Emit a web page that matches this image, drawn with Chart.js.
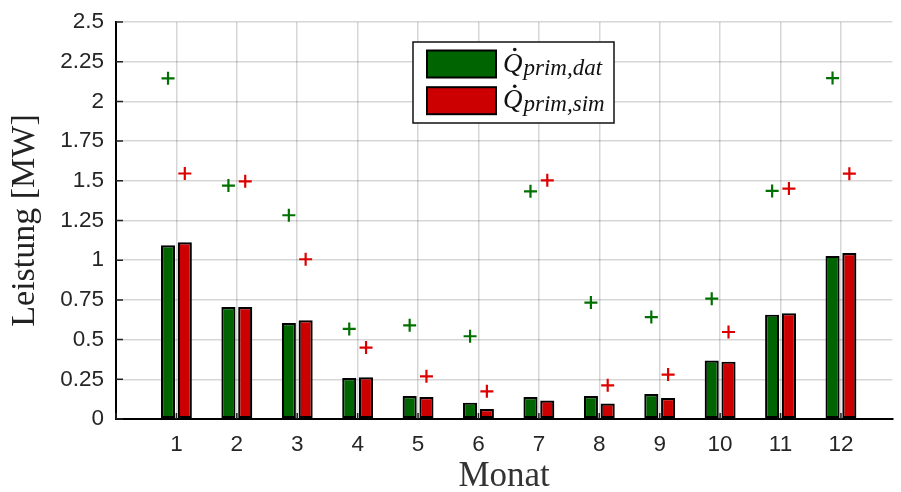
<!DOCTYPE html>
<html>
<head>
<meta charset="utf-8">
<title>Leistung pro Monat</title>
<script src="https://cdn.jsdelivr.net/npm/chart.js@4.4.1/dist/chart.umd.min.js"></script>
<style>
    html, body { margin: 0; padding: 0; background: #fff; }
    #wrap { width: 901px; height: 492px; position: relative; }
</style>
</head>
<body>
<div id="wrap"><canvas id="chart"></canvas></div>
<script>
// Monthly values in MW
const months = [1, 2, 3, 4, 5, 6, 7, 8, 9, 10, 11, 12];
const barsDat = [1.094, 0.705, 0.605, 0.258, 0.145, 0.103, 0.139, 0.145, 0.157, 0.368, 0.657, 1.027];
const barsSim = [1.113, 0.705, 0.622, 0.263, 0.139, 0.063, 0.116, 0.097, 0.132, 0.361, 0.666, 1.045];
const peakDat = [2.145, 1.470, 1.283, 0.567, 0.590, 0.521, 1.434, 0.733, 0.642, 0.758, 1.436, 2.147];
const peakSim = [1.546, 1.497, 1.006, 0.450, 0.269, 0.174, 1.503, 0.212, 0.280, 0.548, 1.451, 1.545];

const legendItems = [
    { sub: 'prim,dat', color: '#006400' },
    { sub: 'prim,sim', color: '#cc0000' }
];

const COLORS = {
    dat: '#006400',
    sim: '#cc0000',
    datMark: '#007000',
    simMark: '#dd0000',
    grid: 'rgba(0, 0, 0, 0.16)',
    text: '#262626'
};

// half distance between the two bars of a month, in x units
const GROUP_SHIFT = 0.139;

const toPoints = (vals, shift = 0) => months.map((m, i) => ({ x: m + shift, y: vals[i] }));

// Legend with dotted Q and subscript, drawn on the canvas
const mathLegend = {
    id: 'mathLegend',
    afterDraw(chart) {
        const { ctx, chartArea } = chart;
        const x0 = chartArea.left + 297;
        const y0 = chartArea.top + 20;
        ctx.save();
        ctx.fillStyle = '#fff';
        ctx.fillRect(x0, y0, 201, 81);
        ctx.lineWidth = 1.5;
        ctx.strokeStyle = '#111';
        ctx.strokeRect(x0, y0, 201, 81);

        legendItems.forEach((item, i) => {
            const sy = y0 + 8.5 + i * 36.7;
            ctx.fillStyle = item.color;
            ctx.fillRect(x0 + 14, sy, 69, 27);
            ctx.lineWidth = 2;
            ctx.strokeStyle = '#000';
            ctx.strokeRect(x0 + 14, sy, 69, 27);

            const base = sy + 21;
            const qx = x0 + 90;
            ctx.fillStyle = '#111';
            ctx.textBaseline = 'alphabetic';
            ctx.textAlign = 'left';
            ctx.font = 'italic 27px "Liberation Serif"';
            ctx.fillText('Q', qx, base);
            const qw = ctx.measureText('Q').width;
            // time-derivative dot over the Q
            ctx.beginPath();
            ctx.arc(qx + qw / 2 + 2, base - 22, 1.8, 0, Math.PI * 2);
            ctx.fill();
            ctx.font = 'italic 23px "Liberation Serif"';
            ctx.fillText(item.sub, qx + qw + 1, base + 3);
        });
        ctx.restore();
    }
};

// Short inward tick marks on both axes
const innerTicks = {
    id: 'innerTicks',
    afterDraw(chart) {
        const { ctx, chartArea, scales } = chart;
        ctx.save();
        ctx.strokeStyle = '#222';
        ctx.lineWidth = 1.5;
        ctx.beginPath();
        scales.y.ticks.forEach(t => {
            const py = scales.y.getPixelForValue(t.value);
            ctx.moveTo(chartArea.left, py);
            ctx.lineTo(chartArea.left + 7, py);
        });
        scales.x.ticks.forEach(t => {
            const px = scales.x.getPixelForValue(t.value);
            ctx.moveTo(px, chartArea.bottom);
            ctx.lineTo(px, chartArea.bottom - 6);
        });
        ctx.stroke();
        ctx.restore();
    }
};

Chart.defaults.font.family = '"Liberation Sans", Arial, sans-serif';
Chart.defaults.color = COLORS.text;

new Chart(document.getElementById('chart'), {
    type: 'bar',
    data: {
        datasets: [
            {
                label: 'prim,dat',
                data: toPoints(barsDat),
                backgroundColor: COLORS.dat,
                borderColor: '#000',
                borderWidth: 2.2,
                borderSkipped: false,
                categoryPercentage: 0.556,
                barPercentage: 0.84,
                order: 2
            },
            {
                label: 'prim,sim',
                data: toPoints(barsSim),
                backgroundColor: COLORS.sim,
                borderColor: '#000',
                borderWidth: 2.2,
                borderSkipped: false,
                categoryPercentage: 0.556,
                barPercentage: 0.84,
                order: 2
            },
            {
                type: 'scatter',
                label: 'peak dat',
                data: toPoints(peakDat, -GROUP_SHIFT),
                pointStyle: 'cross',
                radius: 6.5,
                borderWidth: 2.2,
                borderColor: COLORS.datMark,
                order: 1
            },
            {
                type: 'scatter',
                label: 'peak sim',
                data: toPoints(peakSim, GROUP_SHIFT),
                pointStyle: 'cross',
                radius: 6.5,
                borderWidth: 2.2,
                borderColor: COLORS.simMark,
                order: 1
            }
        ]
    },
    options: {
        responsive: true,
        maintainAspectRatio: false,
        animation: false,
        events: [],
        layout: { padding: { top: 22, right: 0, left: 0, bottom: 0 } },
        plugins: {
            legend: { display: false },
            tooltip: { enabled: false }
        },
        scales: {
            x: {
                type: 'linear',
                min: 0,
                max: 12.85,
                offset: false,
                grid: { color: COLORS.grid, lineWidth: 1.5, drawTicks: false, offset: false },
                border: { display: true, color: '#000', width: 2 },
                ticks: {
                    stepSize: 1,
                    includeBounds: false,
                    padding: 12,
                    font: { size: 22.5 },
                    callback: (v) => (v === 0 ? '' : String(v))
                },
                title: {
                    display: true,
                    text: 'Monat',
                    color: '#333',
                    font: { family: '"Liberation Serif", serif', size: 35, lineHeight: 0.8 },
                    padding: { top: 0, bottom: 1 }
                },
                afterFit: (scale) => {
                    scale.height = 73;
                    scale.paddingRight = 0;
                }
            },
            y: {
                min: 0,
                max: 2.5,
                grid: { color: COLORS.grid, lineWidth: 1.5, drawTicks: false },
                border: { display: true, color: '#000', width: 2 },
                ticks: {
                    stepSize: 0.25,
                    padding: 12,
                    font: { size: 22.5 },
                    callback: (v) => String(Math.round(v * 100) / 100)
                },
                title: {
                    display: true,
                    text: 'Leistung [MW]',
                    color: '#222',
                    font: { family: '"Liberation Serif", serif', size: 34 },
                    padding: { top: 5, bottom: 0 }
                },
                afterFit: (scale) => {
                    scale.width = 116;
                    scale.paddingTop = 0;
                    scale.paddingBottom = 0;
                }
            }
        }
    },
    plugins: [mathLegend, innerTicks]
});
</script>
</body>
</html>
